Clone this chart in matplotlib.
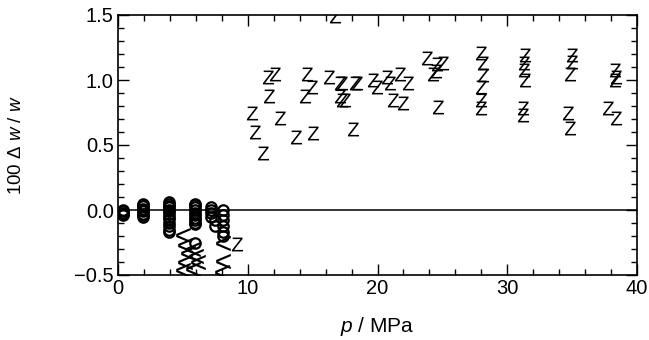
import matplotlib
matplotlib.use("Agg")
import matplotlib.pyplot as plt
from matplotlib.ticker import MultipleLocator

plt.rcParams['font.family'] = ['Liberation Sans', 'DejaVu Sans']
plt.rcParams['mathtext.fontset'] = 'custom'
plt.rcParams['mathtext.rm'] = 'Liberation Sans'
plt.rcParams['mathtext.it'] = 'Liberation Sans:italic'
plt.rcParams['mathtext.sf'] = 'Liberation Sans'

# Series "Z" (letter markers)
z_p = [9.15, 16.7,
       10.3, 10.55, 11.2, 11.56, 11.6, 12.1, 12.5, 13.7, 14.4, 14.6, 14.95, 15.0,
       16.3, 17.1, 17.1, 17.3, 17.3, 17.5, 18.1, 18.3, 18.4,
       19.65, 19.96, 20.7, 20.96, 21.2, 21.7, 21.96, 22.35,
       23.8, 24.3, 24.5, 24.6, 24.7, 25.05,
       28.0, 28.1, 28.1, 28.0, 28.0, 28.0,
       31.4, 31.3, 31.3, 31.4, 31.2, 31.2,
       35.0, 35.0, 34.8, 34.7, 34.8,
       38.3, 38.4, 38.3, 37.8, 38.4]
z_y = [-0.26, 1.49,
       0.75, 0.60, 0.44, 1.02, 0.88, 1.05, 0.71, 0.56, 0.88, 1.05, 0.95, 0.59,
       1.02, 0.98, 0.88, 0.85, 0.98, 0.85, 0.62, 0.98, 0.98,
       1.00, 0.95, 1.02, 0.98, 0.85, 1.05, 0.82, 0.98,
       1.17, 1.05, 1.07, 1.12, 0.79, 1.13,
       1.21, 1.13, 1.04, 0.95, 0.85, 0.785,
       1.19, 1.13, 1.08, 1.00, 0.785, 0.73,
       1.19, 1.14, 1.05, 0.75, 0.63,
       1.08, 1.02, 1.00, 0.785, 0.71]

# Series "<" markers
lt_p = [5.0, 5.2, 5.4, 5.2, 5.0, 5.8, 6.0, 6.2, 5.8, 8.1, 8.1, 8.0]
lt_y = [-0.19, -0.27, -0.33, -0.40, -0.46, -0.30, -0.35, -0.40, -0.45, -0.25, -0.39, -0.48]

# Series circles
c_p = [0.35] * 5 + [1.95] * 9 + [3.95] * 13 + [5.93] * 11 + [7.2] * 4 + [7.5] * 2 + [8.1] * 6
c_y = [0.00, -0.01, -0.02, -0.03, -0.04,
       0.05, 0.04, 0.03, 0.01, 0.00, -0.01, -0.03, -0.04, -0.05,
       0.06, 0.05, 0.03, 0.02, 0.00, -0.01, -0.03, -0.05, -0.07, -0.10, -0.12, -0.15, -0.17,
       0.05, 0.04, 0.02, 0.00, -0.02, -0.04, -0.06, -0.08, -0.10, -0.11, -0.25,
       0.02, 0.00, -0.02, -0.05,
       -0.08, -0.12,
       0.00, -0.04, -0.08, -0.12, -0.17, -0.20]

x_ticks = [0, 10, 20, 30, 40]
y_ticks = [-0.5, 0.0, 0.5, 1.0, 1.5]

fig = plt.figure(figsize=(6.49, 3.40), dpi=100)
ax = fig.add_axes([118/649, 65/340, 519/649, 260/340])

ax.axhline(0, color='black', lw=1.1, zorder=1)
ax.plot(c_p, c_y, ls='none', marker='o', ms=7.5, mfc='none', mec='black', mew=1.6, zorder=3)
ax.plot(lt_p, lt_y, ls='none', marker=r'$<$', ms=11, color='black', mew=0, zorder=3)
ax.plot(z_p, z_y, ls='none', marker=r'$\mathsf{Z}$', ms=10, color='black', mew=0, zorder=3)

ax.set_xlim(0, 40)
ax.set_ylim(-0.5, 1.5)
ax.set_xticks(x_ticks)
ax.set_yticks(y_ticks)
ax.set_yticklabels([f'{v:.1f}'.replace('-', '\u2212') for v in y_ticks])
ax.xaxis.set_minor_locator(MultipleLocator(2))
ax.yaxis.set_minor_locator(MultipleLocator(0.1))
ax.tick_params(which='both', direction='in', top=True, right=True, width=1.0, labelsize=14.5, pad=3)
ax.tick_params(which='major', length=8)
ax.tick_params(which='minor', length=4.3)
for s in ax.spines.values():
    s.set_linewidth(1.2)

ax.set_xlabel(r'$\it{p}$ / MPa', fontsize=15, labelpad=12)
ax.set_ylabel(r'100 $\Delta$ $\it{w}$ / $\it{w}$', fontsize=13.5)
ax.yaxis.set_label_coords(-0.179, 0.5)

fig.savefig('out.png', dpi=100)
